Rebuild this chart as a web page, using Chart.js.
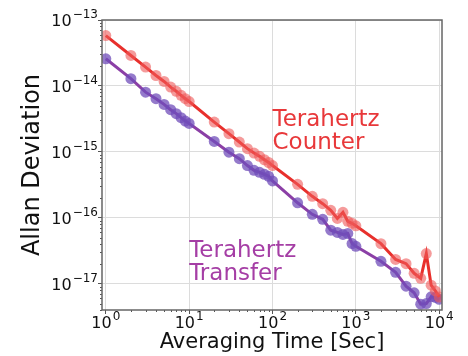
<!DOCTYPE html>
<html lang="en">
<head>
<meta charset="UTF-8">
<title>Allan Deviation</title>
<script src="https://cdn.jsdelivr.net/npm/chart.js"></script>
<style>
  html, body { margin: 0; padding: 0; background: #fff; }
  #wrap { width: 468px; height: 356px; }
</style>
</head>
<body>
<div id="wrap"><canvas id="adevChart" width="468" height="356"></canvas></div>
<script>
// averaging times [s]
const tau = [1, 2, 3, 4, 5, 6, 7, 8, 9,
             10, 20, 30, 40, 50, 60, 70, 80, 90,
             100, 200, 300, 400, 500, 600, 700, 800, 900,
             1000, 2000, 3000, 4000, 5000, 6000, 7000, 8000, 9000, 10000];

const counterAdev = [5.8e-14, 2.9e-14, 1.93e-14, 1.44e-14, 1.17e-14, 9.6e-15, 8.3e-15, 7.2e-15, 6.4e-15,
                     5.8e-15, 2.83e-15, 1.89e-15, 1.41e-15, 1.12e-15, 9.6e-16, 8.55e-16, 7.6e-16, 6.9e-16,
                     6.2e-16, 3.22e-16, 2.12e-16, 1.64e-16, 1.3e-16, 9.8e-17, 1.21e-16, 8.85e-17, 8.26e-17,
                     7.57e-17, 4.06e-17, 2.34e-17, 2.02e-17, 1.44e-17, 1.21e-17, 2.87e-17, 9.5e-18, 7.8e-18, 6.3e-18];

const transferAdev = [2.58e-14, 1.29e-14, 8.05e-15, 6.4e-15, 5.25e-15, 4.36e-15, 3.8e-15, 3.3e-15, 2.93e-15,
                      2.7e-15, 1.44e-15, 9.9e-16, 7.9e-16, 6.2e-16, 5.25e-16, 4.9e-16, 4.56e-16, 4.26e-16,
                      3.63e-16, 1.69e-16, 1.13e-16, 9.5e-17, 6.5e-17, 6.0e-17, 5.6e-17, 5.8e-17, 4.07e-17,
                      3.7e-17, 2.19e-17, 1.49e-17, 9.2e-18, 7.3e-18, 4.9e-18, 5.0e-18, 6.35e-18, 6.2e-18, 5.8e-18];

const xTicks = [1, 10, 100, 1000, 10000];
const yTicks = [1e-17, 1e-16, 1e-15, 1e-14, 1e-13];

const FONT = "'DejaVu Sans', sans-serif";

function exponentOf(v) {
    return String(Math.round(Math.log10(v))).replace('-', '\u2212');
}

function pairs(xs, ys) {
    return xs.map((x, i) => ({ x: x, y: ys[i] }));
}

// draws "10" with a raised exponent; align: 'right' or 'center'
function drawPow(ctx, v, x, baseline, align) {
    const exp = exponentOf(v);
    ctx.font = '16px ' + FONT;
    const wb = ctx.measureText('10').width;
    ctx.font = '12px ' + FONT;
    const we = ctx.measureText(exp).width;
    const total = wb + 1 + we;
    const left = align === 'right' ? x - total : x - total / 2;
    ctx.textAlign = 'left';
    ctx.textBaseline = 'alphabetic';
    ctx.font = '16px ' + FONT;
    ctx.fillText('10', left, baseline);
    ctx.font = '12px ' + FONT;
    ctx.fillText(exp, left + wb + 1, baseline - 8);
}

// frame, minor ticks, tick labels, in-plot labels and axis titles
const decorations = {
    id: 'decorations',
    afterDraw(chart) {
        const ctx = chart.ctx;
        const a = chart.chartArea;
        const xs = chart.scales.x, ys = chart.scales.y;
        ctx.save();

        // minor ticks
        ctx.strokeStyle = '#555';
        ctx.lineWidth = 1;
        ctx.beginPath();
        for (let d = 0; d <= 4; d++) {
            for (let m = 2; m <= 9; m++) {
                const v = m * Math.pow(10, d);
                if (v < xs.min || v > xs.max) continue;
                const px = Math.round(xs.getPixelForValue(v)) + 0.5;
                ctx.moveTo(px, a.bottom);
                ctx.lineTo(px, a.bottom + 2);
            }
        }
        for (let d = -18; d <= -13; d++) {
            for (let m = 2; m <= 9; m++) {
                const v = m * Math.pow(10, d);
                if (v < ys.min || v > ys.max) continue;
                const py = Math.round(ys.getPixelForValue(v)) + 0.5;
                ctx.moveTo(a.left, py);
                ctx.lineTo(a.left - 2, py);
            }
        }
        ctx.stroke();

        // frame
        ctx.strokeStyle = '#666';
        ctx.lineWidth = 1.5;
        ctx.strokeRect(a.left, a.top, a.right - a.left, a.bottom - a.top);

        // tick labels
        ctx.fillStyle = '#111';
        xTicks.forEach(v => drawPow(ctx, v, xs.getPixelForValue(v), a.bottom + 18, 'center'));
        yTicks.forEach(v => drawPow(ctx, v, a.left - 4, ys.getPixelForValue(v) + 6, 'right'));

        // in-plot labels
        ctx.font = '23px ' + FONT;
        ctx.textAlign = 'left';
        ctx.textBaseline = 'alphabetic';
        ctx.fillStyle = '#e8383a';
        const cx = xs.getPixelForValue(100);
        ctx.fillText('Terahertz', cx, ys.getPixelForValue(Math.pow(10, -14.6)));
        ctx.fillText('Counter', cx, ys.getPixelForValue(Math.pow(10, -14.95)));
        ctx.fillStyle = '#a53ea5';
        const tx = xs.getPixelForValue(10);
        ctx.fillText('Terahertz', tx, ys.getPixelForValue(Math.pow(10, -16.6)));
        ctx.fillText('Transfer', tx, ys.getPixelForValue(Math.pow(10, -16.95)));

        // axis titles
        ctx.fillStyle = '#111';
        ctx.font = '21px ' + FONT;
        ctx.textAlign = 'center';
        ctx.textBaseline = 'middle';
        ctx.fillText('Averaging Time [Sec]', (a.left + a.right) / 2, 343);
        ctx.translate(33, (a.top + a.bottom) / 2);
        ctx.rotate(-Math.PI / 2);
        ctx.font = '24px ' + FONT;
        ctx.fillText('Allan Deviation', 0, 0);
        ctx.restore();
    }
};

const ctx = document.getElementById('adevChart').getContext('2d');
new Chart(ctx, {
    type: 'line',
    data: {
        datasets: [
            {
                label: 'Terahertz Counter',
                data: pairs(tau, counterAdev),
                borderColor: '#e8302c',
                borderWidth: 3,
                pointRadius: 5.5,
                pointBorderWidth: 0,
                pointBackgroundColor: 'rgba(238, 88, 88, 0.6)',
                pointBorderColor: 'rgba(0,0,0,0)',
                tension: 0
            },
            {
                label: 'Terahertz Transfer',
                data: pairs(tau, transferAdev),
                borderColor: '#8b3fa6',
                borderWidth: 3,
                pointRadius: 5.5,
                pointBorderWidth: 0,
                pointBackgroundColor: 'rgba(112, 78, 185, 0.75)',
                pointBorderColor: 'rgba(0,0,0,0)',
                tension: 0
            }
        ]
    },
    options: {
        responsive: false,
        animation: false,
        layout: { padding: { top: 20, right: 26, bottom: 0, left: 0 } },
        plugins: {
            legend: { display: false },
            tooltip: { enabled: false }
        },
        scales: {
            x: {
                type: 'logarithmic',
                min: 0.9,
                max: 10800,
                afterBuildTicks: s => { s.ticks = xTicks.map(v => ({ value: v })); },
                afterFit: s => { s.height = 46; },
                grid: { color: '#dcdcdc', lineWidth: 1, tickLength: 4, tickColor: '#555' },
                border: { display: false },
                ticks: { display: false }
            },
            y: {
                type: 'logarithmic',
                min: 4e-18,
                max: 1e-13,
                afterBuildTicks: s => { s.ticks = yTicks.map(v => ({ value: v })); },
                afterFit: s => { s.width = 102; },
                grid: { color: '#dcdcdc', lineWidth: 1, tickLength: 4, tickColor: '#555' },
                border: { display: false },
                ticks: { display: false }
            }
        }
    },
    plugins: [decorations]
});
</script>
</body>
</html>
